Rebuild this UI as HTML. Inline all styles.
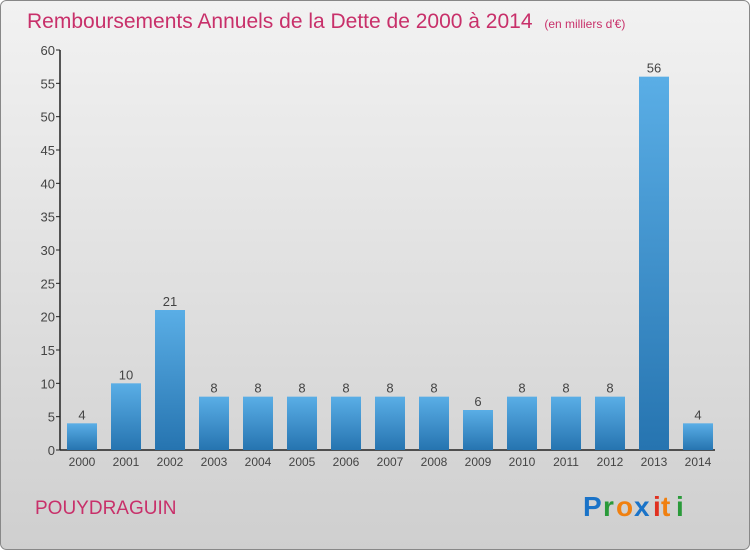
<!DOCTYPE html>
<html><head><meta charset="utf-8"><style>
body{margin:0;width:750px;height:550px;overflow:hidden;font-family:"Liberation Sans",sans-serif}
</style></head><body>
<svg width="750" height="550" viewBox="0 0 750 550">
<defs>
<linearGradient id="bg" x1="0" y1="0" x2="0" y2="1"><stop offset="0" stop-color="#f2f2f2"/><stop offset="1" stop-color="#cfcfcf"/></linearGradient>
<linearGradient id="bar" x1="0" y1="0" x2="0" y2="1"><stop offset="0" stop-color="#5aaee6"/><stop offset="1" stop-color="#2674b0"/></linearGradient>
</defs>
<rect x="0.5" y="0.5" width="749" height="549" rx="6" fill="url(#bg)" stroke="#888"/>
<text x="27" y="28" font-size="21" fill="#c8306a">Remboursements Annuels de la Dette de 2000 à 2014 <tspan font-size="12" dx="6">(en milliers d'€)</tspan></text>
<g id="yaxis"></g>
<g id="bars"></g>
<text x="35" y="514" font-size="19" fill="#c8306a">POUYDRAGUIN</text>
<g font-size="28" font-weight="bold" font-family="Liberation Sans, sans-serif">
<text x="583" y="516" fill="#1a73c8">P</text><text x="603" y="516" fill="#2a9a3a">r</text><text x="616" y="516" fill="#f08010">o</text><text x="634" y="516" fill="#1a73c8">x</text><text x="653" y="516" fill="#e03020">i</text><text x="661" y="516" fill="#f08010">t</text><text x="676" y="516" fill="#2a9a3a">i</text>
</g>
</svg>
<script>
const years=["2000","2001","2002","2003","2004","2005","2006","2007","2008","2009","2010","2011","2012","2013","2014"];
const values=[4,10,21,8,8,8,8,8,8,6,8,8,8,56,4];
const yTicks=[0,5,10,15,20,25,30,35,40,45,50,55,60];
const NS="http://www.w3.org/2000/svg";
const y0=450,yTop=50,yMax=60,x0=60,step=44,bw=30;
const ys=v=>y0-(v/yMax)*(y0-yTop);
const xs=i=>82+i*step;
function mk(t,a,p){const e=document.createElementNS(NS,t);for(const k in a)e.setAttribute(k,a[k]);p.appendChild(e);return e;}
const ya=document.getElementById('yaxis');
mk('line',{x1:x0,y1:yTop,x2:x0,y2:y0,stroke:'#222','stroke-width':1.5},ya);
mk('line',{x1:x0,y1:y0,x2:715,y2:y0,stroke:'#222','stroke-width':1.5},ya);
yTicks.forEach(v=>{
 const l=mk('line',{x1:x0-4,y1:ys(v),x2:x0,y2:ys(v),stroke:'#222'},ya);
 
 
 const t=mk('text',{x:x0-5,y:ys(v)+5,'text-anchor':'end','font-size':13,fill:'#444'},ya);
 t.textContent=v;
 
 
});
const bg=document.getElementById('bars');
values.forEach((v,i)=>{
 const r=mk('rect',{x:xs(i)-bw/2,y:ys(v),width:bw,height:y0-ys(v),fill:'url(#bar)'},bg);
 
 
 const t=mk('text',{x:xs(i),y:ys(v)-4,'text-anchor':'middle','font-size':13,fill:'#444'},bg);
 t.textContent=v;
 
 
 const xl=mk('text',{x:xs(i),y:466,'text-anchor':'middle','font-size':12,fill:'#444'},bg);
 xl.textContent=years[i];
 
 
});
</script>
</body></html>
